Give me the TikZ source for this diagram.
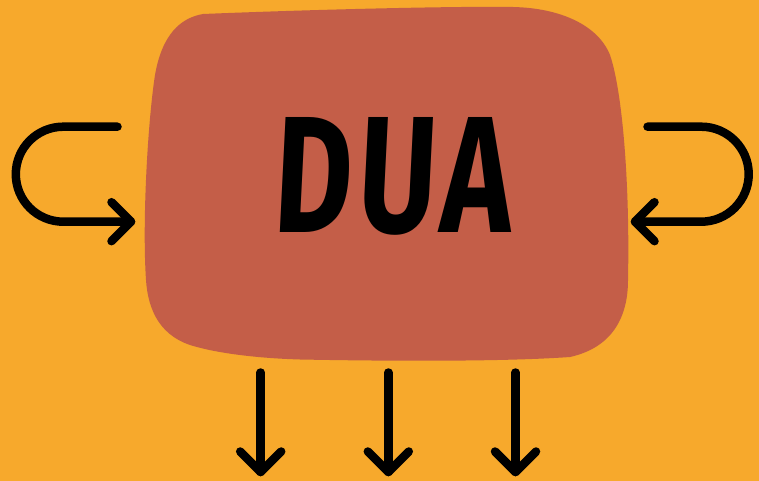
\documentclass[tikz,border=0pt]{standalone}
\usepackage{fontspec}
\newfontfamily\duafont{Fira Sans}[FakeSlant=0.05, FakeStretch=0.72]
\definecolor{bgorange}{RGB}{247,169,44}
\definecolor{blobred}{RGB}{196,94,72}
\tikzset{
  arrowline/.style={draw=black, line width=8.5pt, line cap=round, line join=round},
}
\begin{document}
\begin{tikzpicture}[x=1pt,y=-1pt]
\useasboundingbox (0,0) rectangle (759,481);
\fill[bgorange] (0,0) rectangle (759,481);
% blob
\fill[blobred] (203,14) .. controls (300,10) and (450,6) .. (513,7)
  .. controls (560,8) and (598,25) .. (610,55)
  .. controls (622,90) and (630,180) .. (628,280)
  .. controls (628,320) and (610,348) .. (570,357)
  .. controls (500,362) and (380,361) .. (300,359.5)
  .. controls (250,358) and (215,352) .. (197,347)
  .. controls (160,338) and (148,310) .. (146,280)
  .. controls (142,220) and (148,120) .. (155,75)
  .. controls (162,35) and (180,18) .. (203,14) -- cycle;
\node[font=\duafont\bfseries\fontsize{166}{166}\selectfont, inner sep=0pt, anchor=base] (dua) at (391,232) {D\kern6pt U\kern5pt A};
% left loop arrow
\coordinate (lstart) at (117.5,126.7);
\coordinate (ltip) at (131,221.7);
\coordinate (la) at (111.5,202.2);
\coordinate (lb) at (111.5,241.2);
\draw[arrowline] (lstart) -- (63.3,126.7) arc[start angle=270, end angle=90, radius=47.5] -- (ltip);
\draw[arrowline] (la) -- (ltip) -- (lb);
% right loop arrow
\coordinate (rstart) at (647.5,126.7);
\coordinate (rtip) at (635,221.7);
\coordinate (ra) at (654.5,202.2);
\coordinate (rb) at (654.5,241.2);
\draw[arrowline] (rstart) -- (701.2,126.7) arc[start angle=-90, end angle=90, radius=47.5] -- (rtip);
\draw[arrowline] (ra) -- (rtip) -- (rb);
% down arrows
\foreach \n/\x in {d1/260.7, d2/388.3, d3/515.5}{
  \coordinate (\n top) at (\x,372.5);
  \coordinate (\n tip) at (\x,472);
  \draw[arrowline] (\n top) -- (\n tip);
  \draw[arrowline] (\x-20.5,451.5) -- (\n tip) -- (\x+20.5,451.5);
}
\end{tikzpicture}
\end{document}
